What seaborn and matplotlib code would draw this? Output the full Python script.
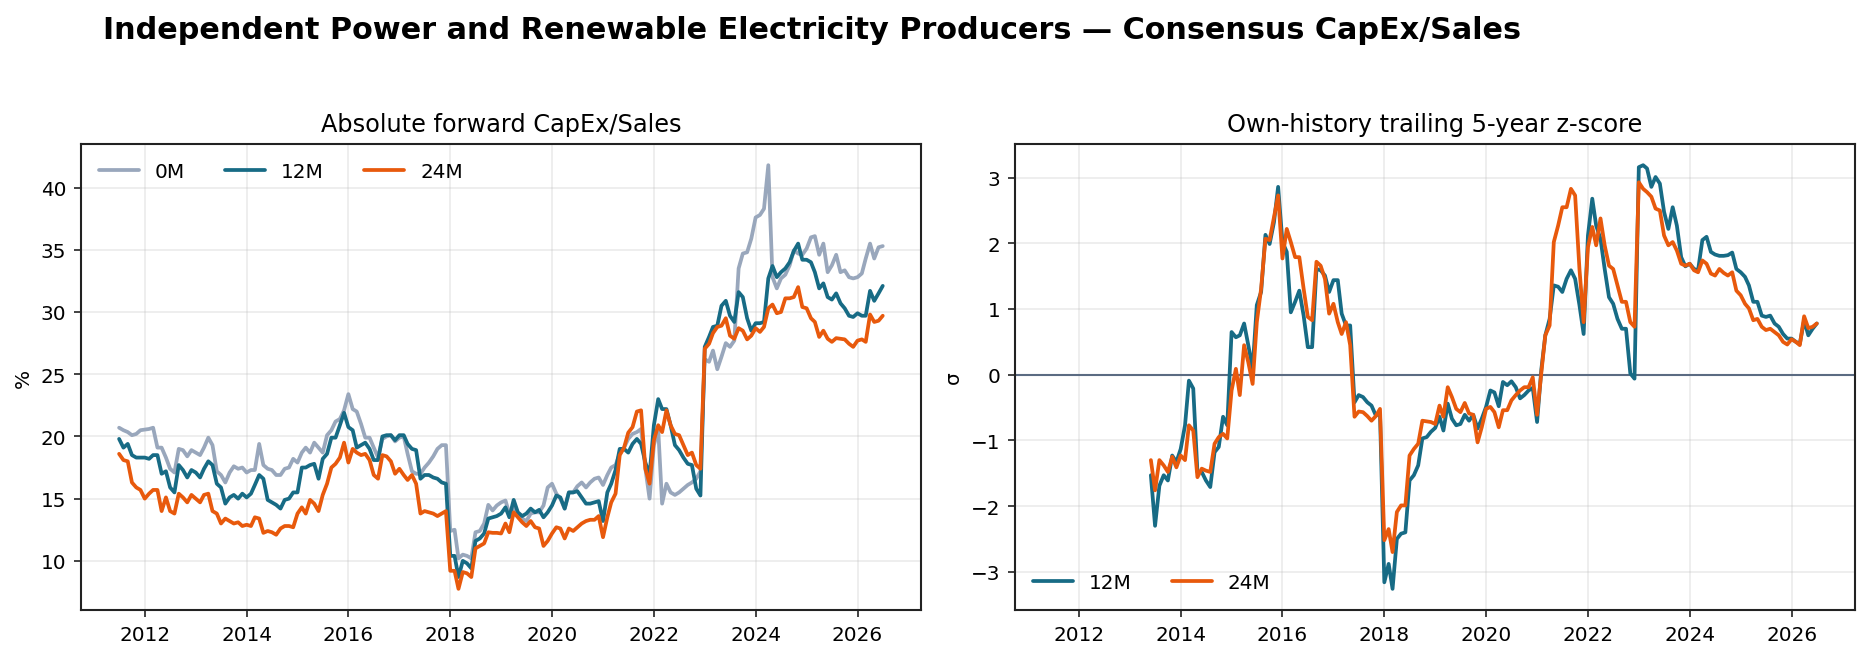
import numpy as np
import pandas as pd
import matplotlib
matplotlib.use("Agg")
import matplotlib.pyplot as plt
import seaborn as sns

# monthly observations, Jul 2011 .. Jul 2026
dates = pd.date_range("2011-07-01", periods=181, freq="MS")

capex_0m = [
    20.7, 20.5, 20.35, 20.1, 20.2, 20.5, 20.55, 20.6, 20.7, 19.1,
    19.1, 18.3, 17.4, 17.1, 19.0, 18.9, 18.4, 18.9, 18.7, 18.5,
    19.1, 19.9, 19.3, 17.2, 16.9, 16.3, 17.1, 17.6, 17.4, 17.5,
    17.1, 17.3, 17.3, 19.4, 17.7, 17.4, 17.3, 16.9, 16.9, 17.4,
    17.5, 18.2, 17.9, 18.7, 19.1, 18.7, 19.5, 19.1, 18.7, 20.1,
    20.5, 21.2, 21.4, 22.1, 23.4, 22.2, 22.0, 21.0, 19.9, 19.9,
    19.1, 18.3, 19.8, 20.0, 20.1, 19.6, 19.9, 20.0, 18.6, 17.2,
    17.0, 17.0, 17.5, 17.9, 18.4, 19.0, 19.3, 19.3, 12.4, 12.5,
    10.2, 10.5, 10.4, 10.2, 12.3, 12.4, 13.0, 14.5, 14.05, 14.45,
    14.7, 14.85, 13.8, 14.2, 13.8, 13.4, 13.2, 13.8, 13.9, 13.9,
    14.45, 15.9, 16.2, 15.4, 15.0, 14.2, 15.5, 15.5, 16.0, 16.3,
    15.9, 16.3, 16.6, 16.7, 16.1, 16.9, 17.5, 17.7, 18.6, 19.1,
    19.8, 20.2, 20.35, 20.6, 17.4, 15.0, 19.3, 20.6, 14.6, 16.2,
    15.5, 15.3, 15.5, 15.8, 16.1, 16.3, 16.6, 17.2, 26.2, 26.0,
    26.9, 25.4, 26.4, 27.5, 27.2, 27.7, 33.5, 34.7, 34.8, 35.9,
    37.6, 37.8, 38.3, 41.8, 32.8, 31.9, 32.7, 33.0, 33.75, 34.96,
    34.7, 34.6, 35.1, 36.0, 36.1, 34.6, 35.5, 33.2, 33.75, 34.6,
    33.2, 33.35, 32.8, 32.7, 32.8, 33.1, 34.3, 35.5, 34.3, 35.2, 35.3,
]

capex_12m = [
    19.8, 19.1, 19.4, 18.5, 18.3, 18.3, 18.3, 18.2, 18.5, 18.5,
    17.0, 17.2, 15.9, 15.5, 17.7, 17.3, 16.7, 17.3, 17.1, 16.7,
    17.4, 18.0, 17.7, 16.2, 15.9, 14.6, 15.1, 15.3, 15.0, 15.4,
    15.1, 15.4, 16.1, 16.9, 16.6, 14.9, 14.7, 14.5, 14.2, 14.9,
    15.0, 15.5, 15.5, 17.5, 17.5, 17.7, 17.8, 16.6, 18.2, 18.6,
    19.9, 19.9, 20.9, 21.9, 20.75, 20.5, 19.1, 19.3, 19.5, 19.0,
    18.1, 18.1, 20.0, 20.1, 20.1, 19.7, 20.1, 20.1, 19.4, 19.0,
    18.9, 16.6, 16.9, 16.9, 16.7, 16.6, 16.3, 16.2, 10.4, 10.4,
    8.7, 10.0, 9.8, 9.4, 11.6, 11.8, 12.2, 13.4, 13.5, 13.6,
    13.8, 14.3, 13.5, 14.9, 13.9, 13.6, 13.8, 14.2, 13.9, 14.1,
    13.5, 13.9, 14.45, 15.25, 15.1, 14.2, 15.5, 15.5, 15.6, 15.1,
    14.6, 14.6, 14.7, 14.8, 13.2, 15.5, 16.2, 17.3, 19.0, 19.0,
    18.7, 19.4, 19.8, 19.4, 17.9, 16.9, 20.9, 23.0, 22.2, 22.2,
    20.9, 19.3, 18.9, 18.3, 17.8, 17.7, 15.8, 15.25, 27.2, 28.0,
    28.8, 28.9, 30.5, 30.9, 29.7, 29.2, 31.6, 31.2, 29.5, 28.5,
    29.1, 29.1, 29.2, 32.7, 33.7, 32.8, 33.2, 33.5, 34.0, 34.9,
    35.5, 34.2, 34.2, 34.0, 33.2, 31.9, 32.3, 31.2, 31.0, 31.5,
    30.7, 30.3, 29.7, 29.6, 29.9, 29.7, 29.7, 31.7, 30.9, 31.5, 32.1,
]

capex_24m = [
    18.6, 18.1, 18.0, 16.3, 15.9, 15.7, 15.0, 15.4, 15.7, 15.7,
    14.0, 15.1, 14.0, 13.8, 15.4, 15.1, 14.7, 15.3, 15.0, 14.7,
    15.3, 15.4, 14.0, 13.8, 13.0, 13.4, 13.2, 13.0, 13.1, 12.8,
    12.9, 12.8, 13.5, 13.4, 12.25, 12.4, 12.3, 12.1, 12.6, 12.8,
    12.8, 12.7, 13.8, 14.3, 13.8, 14.9, 14.6, 14.0, 15.3, 16.2,
    17.5, 17.8, 18.3, 19.5, 17.9, 19.0, 18.7, 18.5, 18.6, 18.1,
    16.9, 16.6, 18.5, 18.4, 18.0, 17.0, 17.4, 16.9, 16.5, 16.9,
    16.2, 13.8, 14.0, 13.9, 13.8, 13.6, 13.8, 14.0, 9.2, 9.2,
    7.75, 9.1, 9.0, 8.7, 11.0, 11.2, 11.4, 12.3, 12.25, 12.25,
    12.2, 13.0, 12.3, 13.9, 13.5, 13.1, 12.8, 13.2, 12.7, 12.6,
    11.2, 11.6, 12.2, 12.7, 12.6, 11.8, 12.6, 12.4, 12.7, 13.0,
    13.2, 13.3, 13.3, 13.6, 11.9, 13.5, 14.7, 15.4, 18.5, 19.1,
    20.3, 20.75, 22.0, 22.1, 17.4, 16.2, 19.7, 20.9, 20.35, 22.1,
    20.9, 20.2, 20.1, 19.3, 18.5, 18.7, 17.7, 17.4, 27.05, 27.45,
    28.3, 28.8, 28.9, 29.5, 28.1, 27.85, 28.7, 28.5, 27.8, 28.1,
    28.7, 28.4, 28.8, 30.3, 30.6, 29.9, 30.0, 31.1, 31.1, 31.2,
    32.0, 30.4, 30.3, 29.5, 29.2, 28.0, 28.5, 27.85, 27.6, 27.9,
    27.85, 27.8, 27.45, 27.2, 27.7, 27.8, 27.6, 29.8, 29.2, 29.3, 29.7,
]

# trailing 5y z-score only exists from Jun 2013 on
z_12m = [np.nan] * 23 + [
    -1.53, -2.30, -1.69, -1.53, -1.61, -1.23, -1.33,
    -1.13, -0.77, -0.09, -0.21, -1.48, -1.48, -1.61, -1.71, -1.18, -1.10,
    -0.64, -0.77, 0.65, 0.57, 0.60, 0.78, 0.45, 0.09, 1.06, 1.26,
    2.13, 1.99, 2.32, 2.86, 2.02, 1.87, 0.95, 1.11, 1.28, 0.90,
    0.42, 0.42, 1.61, 1.59, 1.51, 1.26, 1.44, 1.44, 0.93, 0.75,
    0.75, -0.42, -0.31, -0.34, -0.42, -0.47, -0.62, -0.59, -3.16, -2.88,
    -3.26, -2.50, -2.42, -2.40, -1.61, -1.53, -1.38, -0.97, -0.95, -0.87,
    -0.81, -0.64, -0.85, -0.44, -0.67, -0.77, -0.75, -0.61, -0.70, -0.61,
    -0.82, -0.67, -0.49, -0.24, -0.27, -0.48, -0.11, -0.16, -0.10, -0.19,
    -0.36, -0.31, -0.24, -0.20, -0.72, 0.09, 0.60, 0.85, 1.36, 1.34,
    1.26, 1.46, 1.59, 1.46, 1.06, 0.62, 2.12, 2.68, 2.27, 2.07,
    1.61, 1.18, 1.08, 0.85, 0.70, 0.70, 0.02, -0.06, 3.16, 3.19,
    3.14, 2.86, 3.01, 2.91, 2.48, 2.22, 2.55, 2.27, 1.79, 1.65,
    1.69, 1.61, 1.59, 2.05, 2.10, 1.87, 1.83, 1.81, 1.81, 1.82,
    1.86, 1.61, 1.56, 1.49, 1.36, 1.11, 1.11, 0.90, 0.88, 0.90,
    0.78, 0.73, 0.62, 0.55, 0.55, 0.50, 0.47, 0.83, 0.60, 0.70, 0.78,
]

z_24m = [np.nan] * 23 + [
    -1.30, -1.76, -1.30, -1.38, -1.48, -1.25, -1.41,
    -1.23, -1.30, -0.77, -0.85, -1.56, -1.43, -1.46, -1.48, -1.05, -0.95,
    -0.90, -0.97, -0.24, 0.09, -0.31, 0.45, 0.19, -0.14, 0.80, 1.31,
    2.07, 2.05, 2.40, 2.73, 1.77, 2.22, 2.02, 1.79, 1.79, 1.31,
    0.88, 0.83, 1.72, 1.66, 1.46, 0.93, 1.08, 0.80, 0.62, 0.80,
    0.45, -0.64, -0.56, -0.57, -0.63, -0.70, -0.63, -0.52, -2.52, -2.35,
    -2.70, -2.09, -1.99, -1.99, -1.23, -1.13, -1.05, -0.70, -0.71, -0.72,
    -0.75, -0.47, -0.64, -0.19, -0.34, -0.52, -0.57, -0.43, -0.59, -0.61,
    -1.03, -0.80, -0.52, -0.49, -0.57, -0.80, -0.54, -0.54, -0.39, -0.31,
    -0.24, -0.19, -0.19, -0.04, -0.61, 0.04, 0.60, 0.75, 2.02, 2.27,
    2.55, 2.55, 2.83, 2.73, 1.61, 0.80, 1.94, 2.25, 1.97, 2.38,
    1.97, 1.66, 1.61, 1.36, 1.11, 1.11, 0.80, 0.73, 2.93, 2.83,
    2.78, 2.71, 2.53, 2.50, 2.12, 1.97, 2.02, 1.89, 1.69, 1.66,
    1.69, 1.59, 1.56, 1.74, 1.69, 1.54, 1.51, 1.61, 1.55, 1.51,
    1.56, 1.28, 1.21, 1.08, 1.01, 0.83, 0.85, 0.73, 0.68, 0.70,
    0.65, 0.60, 0.50, 0.46, 0.54, 0.50, 0.45, 0.89, 0.71, 0.73, 0.78,
]

colors = {"0M": "#99a7bc", "12M": "#176b85", "24M": "#e8590c"}


def style_axis(ax):
    ax.grid(True, color="#b0b0b0", alpha=0.25, linewidth=0.8)
    for s in ax.spines.values():
        s.set_visible(True)
        s.set_color("#222222")
        s.set_linewidth(1.0)
    ax.tick_params(labelsize=9.6, length=3.5, width=0.8, color="#222222", labelcolor="black")
    ax.set_xlabel("")


def main():
    sns.set_style("ticks")
    plt.rcParams["font.family"] = ["DejaVu Sans"]
    plt.rcParams["text.color"] = "black"
    plt.rcParams["axes.labelcolor"] = "black"

    fig, (ax1, ax2) = plt.subplots(1, 2, figsize=(12.46, 4.393), dpi=150, sharex=True)
    fig.subplots_adjust(left=0.0433, right=0.9925, top=0.780, bottom=0.0728, wspace=0.112)

    sns.lineplot(x=dates, y=capex_0m, ax=ax1, color=colors["0M"], lw=1.8, label="0M")
    sns.lineplot(x=dates, y=capex_12m, ax=ax1, color=colors["12M"], lw=1.8, label="12M")
    sns.lineplot(x=dates, y=capex_24m, ax=ax1, color=colors["24M"], lw=1.8, label="24M")
    ax1.set_title("Absolute forward CapEx/Sales", fontsize=11.5)
    ax1.set_ylabel("%", fontsize=9.6)
    style_axis(ax1)
    ax1.legend(loc="upper left", ncol=3, frameon=False, fontsize=9.6)

    ax2.axhline(0, color="#5b6b82", lw=1.0, zorder=1)
    sns.lineplot(x=dates, y=z_12m, ax=ax2, color=colors["12M"], lw=1.8, label="12M")
    sns.lineplot(x=dates, y=z_24m, ax=ax2, color=colors["24M"], lw=1.8, label="24M")
    ax2.set_title("Own-history trailing 5-year z-score", fontsize=11.5)
    ax2.set_ylabel("σ", fontsize=9.6)
    style_axis(ax2)
    ax2.legend(loc="lower left", ncol=2, frameon=False, fontsize=9.6)

    fig.suptitle("Independent Power and Renewable Electricity Producers — Consensus CapEx/Sales",
                 x=0.055, y=0.976, ha="left", va="top", fontsize=14.5, fontweight="bold")

    plt.savefig("out.png", dpi=150)


if __name__ == "__main__":
    main()
